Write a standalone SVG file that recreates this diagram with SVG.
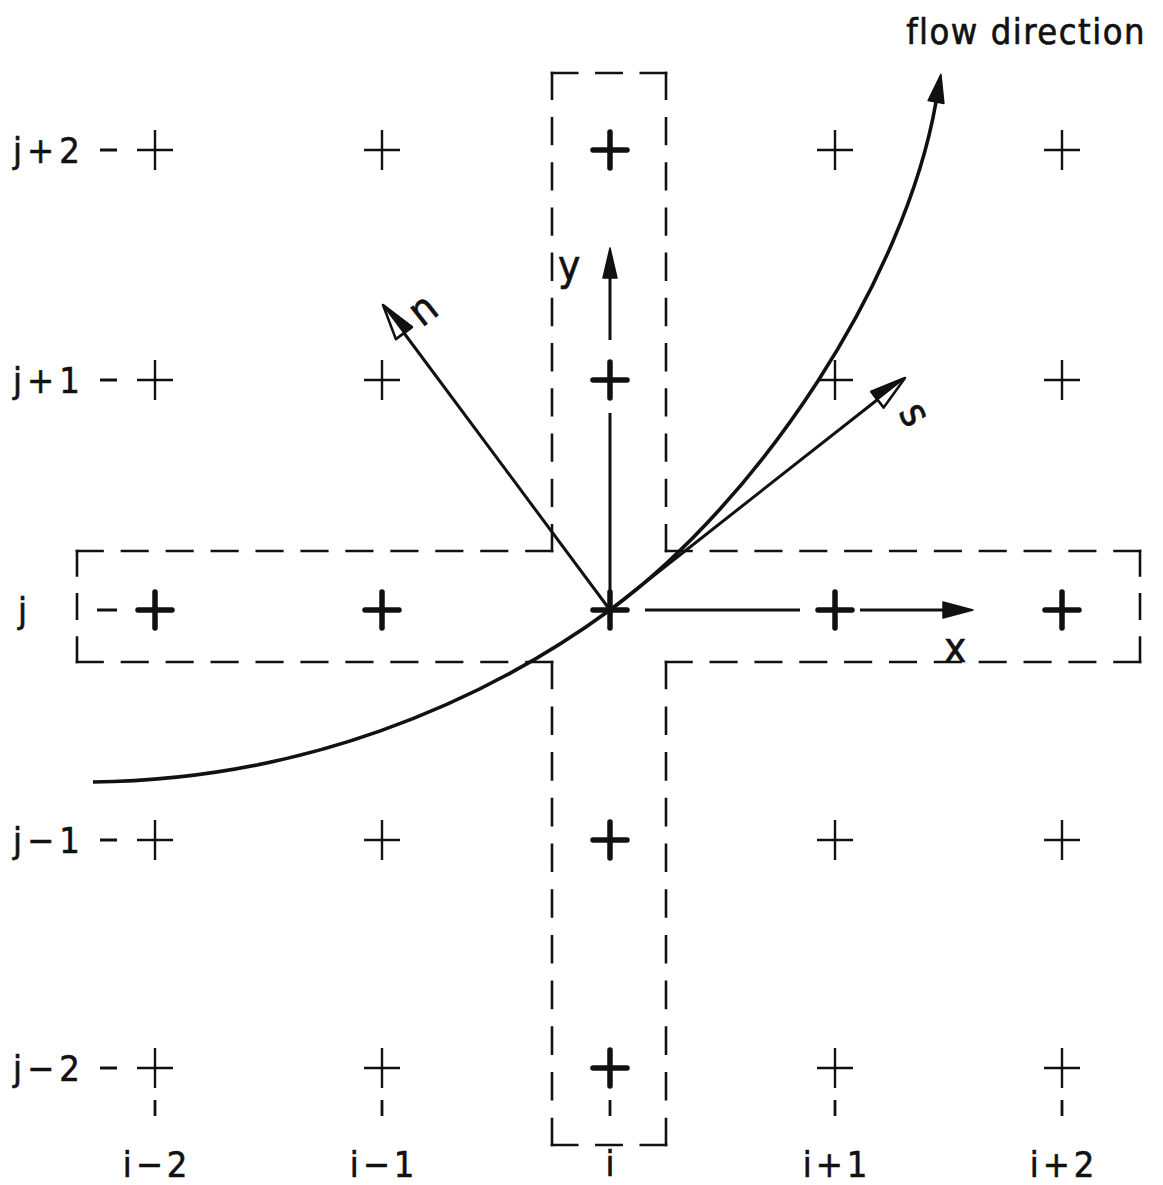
<svg xmlns="http://www.w3.org/2000/svg" width="1163" height="1185" viewBox="0 0 1163 1185">
<style>
.bg{fill:#fff}
.thin{stroke:#111;stroke-width:2.4;fill:none}
.bold{stroke:#111;stroke-width:5.5;stroke-linecap:round;fill:none}
.dash{stroke:#111;stroke-width:2.6;fill:none;stroke-dasharray:25 19;stroke-linecap:square}
.tick{stroke:#111;stroke-width:2.8;fill:none}
.ax{stroke:#111;stroke-width:3;fill:none}
.curve{stroke:#111;stroke-width:3.6;fill:none}
.lbl{font-family:"DejaVu Sans Condensed","DejaVu Sans","Liberation Sans",sans-serif;font-size:36px;fill:#111;stroke:#111;stroke-width:0.6}
.big{font-size:42px}
.head{fill:#111;stroke:#111;stroke-width:1.5;stroke-linejoin:round}
.ohead{fill:#fff;stroke:#111;stroke-width:2.6;stroke-linejoin:round}
</style>
<defs>
<path id="tc" d="M-18,0H18M0,-20V20"/>
<path id="bc" d="M-17,0H17M0,-18V18"/>
</defs>
<rect class="bg" width="1163" height="1185"/>

<g id="stencil">
<path class="dash" pathLength="113" d="M552,73H666"/>
<path class="dash" pathLength="465" d="M666,73V551"/>
<path class="dash" pathLength="465" d="M666,551H1140"/>
<path class="dash" pathLength="113" d="M1140,551V662"/>
<path class="dash" pathLength="465" d="M1140,662H666"/>
<path class="dash" pathLength="465" d="M666,662V1145"/>
<path class="dash" pathLength="113" d="M666,1145H552"/>
<path class="dash" pathLength="465" d="M552,1145V662"/>
<path class="dash" pathLength="465" d="M552,662H77"/>
<path class="dash" pathLength="113" d="M77,662V551"/>
<path class="dash" pathLength="465" d="M77,551H552"/>
<path class="dash" pathLength="465" d="M552,551V73"/>
</g>

<g id="grid-thin">
<use href="#tc" class="thin" x="155" y="150"/>
<use href="#tc" class="thin" x="382" y="150"/>
<use href="#tc" class="thin" x="835" y="150"/>
<use href="#tc" class="thin" x="1062" y="150"/>
<use href="#tc" class="thin" x="155" y="380"/>
<use href="#tc" class="thin" x="382" y="380"/>
<use href="#tc" class="thin" x="835" y="380"/>
<use href="#tc" class="thin" x="1062" y="380"/>
<use href="#tc" class="thin" x="155" y="840"/>
<use href="#tc" class="thin" x="382" y="840"/>
<use href="#tc" class="thin" x="835" y="840"/>
<use href="#tc" class="thin" x="1062" y="840"/>
<use href="#tc" class="thin" x="155" y="1068"/>
<use href="#tc" class="thin" x="382" y="1068"/>
<use href="#tc" class="thin" x="835" y="1068"/>
<use href="#tc" class="thin" x="1062" y="1068"/>
</g>

<g id="grid-bold">
<use href="#bc" class="bold" x="610" y="150"/>
<use href="#bc" class="bold" x="610" y="380"/>
<use href="#bc" class="bold" x="610" y="610"/>
<use href="#bc" class="bold" x="610" y="840"/>
<use href="#bc" class="bold" x="610" y="1068"/>
<use href="#bc" class="bold" x="155" y="610"/>
<use href="#bc" class="bold" x="382" y="610"/>
<use href="#bc" class="bold" x="835" y="610"/>
<use href="#bc" class="bold" x="1062" y="610"/>
</g>

<g id="row-labels">
<path class="tick" d="M100,150H117M100,380H117M97,610H117M100,840H117M100,1068H117"/>
<text class="lbl" x="13" y="163" letter-spacing="5">j+2</text>
<text class="lbl" x="13" y="393" letter-spacing="5">j+1</text>
<text class="lbl" x="18" y="623">j</text>
<text class="lbl" x="13" y="853" letter-spacing="5">j−1</text>
<text class="lbl" x="13" y="1081" letter-spacing="5">j−2</text>
</g>

<g id="col-labels">
<path class="tick" d="M155,1100V1116M382,1100V1116M610,1100V1116M835,1100V1116M1062,1100V1116"/>
<text class="lbl" x="157" y="1177" text-anchor="middle" letter-spacing="4">i−2</text>
<text class="lbl" x="384" y="1177" text-anchor="middle" letter-spacing="4">i−1</text>
<text class="lbl" x="610" y="1176" text-anchor="middle">i</text>
<text class="lbl" x="837" y="1177" text-anchor="middle" letter-spacing="4">i+1</text>
<text class="lbl" x="1064" y="1177" text-anchor="middle" letter-spacing="4">i+2</text>
</g>

<g id="connectors">
<g id="axis-y">
<path class="ax" d="M610,592V413M610,340V276"/>
<polygon class="head" points="610,248 603,278 617,278"/>
<text class="lbl big" x="558" y="280">y</text>
</g>
<g id="axis-x">
<path class="ax" d="M645,610H800M860,610H943"/>
<polygon class="head" points="973,610 943,602 943,618"/>
<text class="lbl big" x="944" y="662">x</text>
</g>
<g id="axis-n">
<path class="ax" d="M610,610L404,333"/>
<polygon class="ohead" points="383,305 411.9,327.1 395.9,339.1"/>
<polygon class="head" points="383,305 411.9,327.1 403.9,333.1"/>
<text class="lbl big" x="0" y="0" transform="translate(422,328) rotate(-38)">n</text>
</g>
<g id="axis-s">
<path class="ax" d="M610,610L877,400"/>
<polygon class="ohead" points="905,378 871.3,391.8 883.7,407.6"/>
<polygon class="head" points="905,378 871.3,391.8 877.5,399.7"/>
<text class="lbl big" x="0" y="0" transform="translate(898,412) rotate(62)">s</text>
</g>
<g id="flow">
<path class="curve" d="M93,782C300,780 480,705 610,610C760,500 905,280 936,102"/>
<polygon class="head" points="940.9,74.4 943.9,103.4 928.1,100.6"/>
<text class="lbl" x="1146" y="44" text-anchor="end" letter-spacing="1.5" font-size="34">flow direction</text>
</g>
</g>
</svg>
